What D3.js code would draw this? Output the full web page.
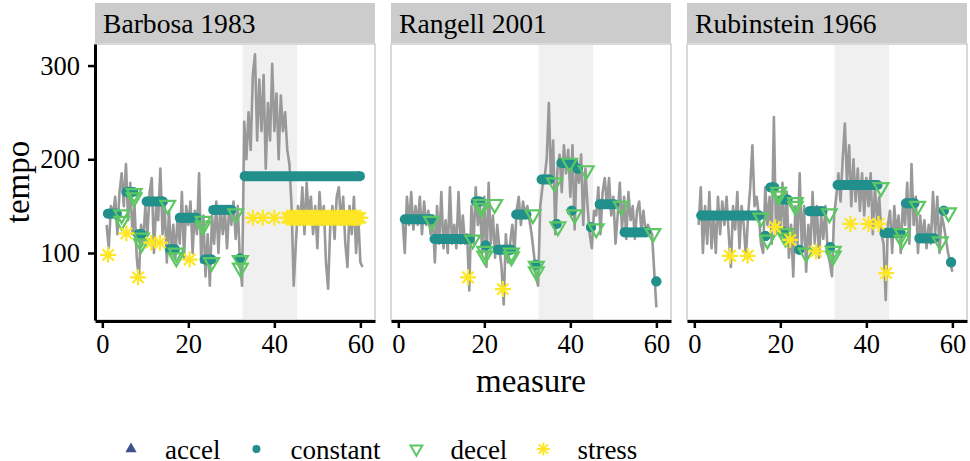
<!DOCTYPE html>
<html lang="en">
<head>
    <meta charset="UTF-8">
    <title>tempo</title>
    <script src="https://d3js.org/d3.v7.min.js"></script>
    <style>
        html, body {
            padding: 0;
            margin: 0;
            background: white;
        }
        svg text {
            font-family: "Liberation Serif", "Times New Roman", serif;
            fill: black;
        }
    </style>
</head>
<body>
<svg id="chart" width="970" height="461"></svg>
<script>
    // facets
    const performers = ["Barbosa 1983", "Rangell 2001", "Rubinstein 1966"];

    // gray tempo curve, one value every half measure from 1 to 60.5
    const sampleMeasures = d3.range(1, 61, 0.5);
    const tempoBarbosa = [
        130, 105, 150, 140, 160, 120, 165, 185, 150, 195,
        135, 175, 120, 150, 95, 72, 130, 110, 150, 120,
        165, 180, 100, 150, 135, 190, 120, 150, 90, 145,
        100, 130, 95, 140, 110, 165, 95, 150, 130, 155,
        100, 145, 120, 185, 90, 140, 75, 120, 65, 140,
        110, 155, 100, 150, 120, 145, 105, 150, 130, 155,
        115, 150, 90, 65, 240, 200, 250, 210, 290, 312,
        220, 285, 230, 290, 190, 260, 220, 302, 230, 270,
        200, 268, 230, 250, 210, 195, 150, 65, 110, 150,
        130, 170, 120, 175, 140, 160, 120, 150, 105, 165,
        130, 150, 90, 62, 130, 150, 115, 160, 170, 130,
        160, 110, 85, 150, 120, 160, 100, 140, 90, 85
    ];
    const tempoRangell = [
        135, 100, 160, 130, 165, 125, 150, 130, 160, 120,
        155, 130, 145, 120, 140, 90, 150, 110, 165, 105,
        135, 100, 170, 110, 130, 105, 165, 110, 140, 110,
        120, 60, 150, 110, 170, 130, 150, 100, 160, 85,
        175, 110, 140, 95, 130, 105, 85, 45, 120, 90,
        110, 130, 100, 145, 160, 130, 155, 140, 150, 135,
        120, 100, 75, 65, 150, 170, 180, 200, 260, 175,
        220, 120, 190, 205, 165, 215, 185, 210, 160, 215,
        125, 200, 175, 205, 130, 190, 150, 120, 105, 145,
        140, 170, 120, 165, 180, 150, 180, 140, 160, 110,
        140, 175, 125, 160, 115, 165, 135, 150, 115, 145,
        155, 125, 145, 120, 130, 125, 120, 80, 42, null
    ];
    const tempoRubinstein = [
        130, 170, 100, 150, 110, 165, 105, 140, 100, 160,
        120, 155, 130, 160, 120, 85, 150, 125, 165, 105,
        150, 130, 95, 140, 170, 215, 150, 160, 140, 110,
        100, 170, 130, 160, 110, 245, 120, 160, 125, 175,
        110, 165, 95, 130, 75, 150, 110, 185, 105, 150,
        80, 130, 105, 165, 110, 150, 95, 140, 115, 150,
        100, 90, 75, 140, 160, 185, 155, 200, 238, 175,
        215, 150, 200, 155, 190, 145, 185, 140, 180, 150,
        185, 120, 170, 135, 160, 120, 110, 50, 130, 145,
        100, 150, 120, 140, 100, 155, 130, 175, 110, 195,
        130, 160, 100, 140, 115, 135, 105, 130, 110, 165,
        120, 160, 100, 140, 130, 115, 100, 90, 80, null
    ];

    // constant-tempo runs: [first measure, last measure, tempo]
    const constantBarbosa = [
        [1.3, 3.4, 142], [5.6, 7.2, 165], [8.3, 9.2, 120], [10.3, 14.1, 155],
        [15.7, 16.9, 104], [18, 21.9, 137.5], [23.8, 25.4, 93], [25.8, 30, 146],
        [32, 32, 94], [33.1, 59.9, 182]
    ];
    const constantRangell = [
        [1.5, 7.7, 136], [8.4, 16.6, 115], [18, 19, 155], [20.3, 20.3, 108],
        [23.1, 26.3, 103.5], [27.4, 29.8, 141], [31.9, 31.9, 87.5], [33.3, 35.2, 178.5],
        [36.8, 36.8, 131], [37.9, 40.6, 196], [40.3, 40.3, 145], [41.7, 41.7, 190],
        [44.8, 44.8, 127.5], [46.8, 50.2, 152], [52.6, 57.6, 122], [60, 60, 69.6]
    ];
    const constantRubinstein = [
        [1.6, 15.1, 140], [16.5, 16.5, 118], [17.7, 18.6, 170], [20.5, 21.7, 157],
        [20.7, 20.7, 122], [24.4, 24.4, 103.5], [26.7, 29.8, 144.6], [31.6, 31.6, 106],
        [33.3, 42.6, 172.5], [44.2, 48, 121.4], [49.2, 51.2, 153], [52.3, 55.8, 115.6],
        [58, 58, 145], [59.7, 59.7, 90]
    ];

    // decel points: [measure, tempo]
    const decelBarbosa = [
        [4.5, 141], [4.5, 134], [7.4, 163.5], [7.4, 159], [9.1, 116], [9.1, 110],
        [15.2, 151], [17.2, 100], [17.2, 95], [23.4, 134], [23.4, 129], [25.4, 90],
        [31, 142], [32.1, 92], [32.1, 84]
    ];
    const decelRangell = [
        [7.7, 134], [17.3, 114], [19.3, 152], [19.3, 148], [22.4, 152], [20.1, 102],
        [20.1, 97], [26.3, 100], [26.3, 96], [31.3, 141], [32.1, 86], [32.1, 80],
        [36.3, 175], [37.1, 128], [39.8, 196], [41, 141], [43.7, 188], [46, 126],
        [51.8, 150], [59.2, 121]
    ];
    const decelRubinstein = [
        [15.5, 137.5], [17, 114], [19.6, 165], [19.6, 161], [23.5, 154], [23.5, 150],
        [21.2, 121], [21.2, 116], [26, 100], [31.4, 142], [32.3, 102], [32.3, 97],
        [43.4, 170], [48.3, 121], [48.3, 114], [51.9, 150], [57.2, 112], [59.1, 143]
    ];

    // stress points: [measure, tempo]
    const stressBarbosa = [
        [1.35, 98], [5.6, 121], [8.3, 74], [11.4, 111], [13.4, 111], [20.3, 93],
        [35, 137.5], [37.3, 137.5], [40, 137.5],
        [43, 137.5], [43.5, 137.5], [44, 137.5], [44.5, 137.5], [45, 137.5], [45.5, 137.5],
        [46, 137.5], [46.5, 137.5], [47, 137.5], [47.5, 137.5], [48, 137.5], [48.5, 137.5],
        [49, 137.5], [49.5, 137.5], [50, 137.5], [50.5, 137.5], [51, 137.5], [51.5, 137.5],
        [52, 137.5], [52.5, 137.5], [53, 137.5], [53.5, 137.5], [54, 137.5], [54.5, 137.5],
        [55, 137.5], [55.5, 137.5], [56, 137.5], [56.5, 137.5], [57, 137.5], [57.5, 137.5],
        [58, 137.5], [58.5, 137.5], [59, 137.5], [59.5, 137.5], [60, 137.5]
    ];
    const stressRangell = [[16.2, 74], [24.3, 61.5]];
    const stressRubinstein = [
        [8.3, 97], [12.4, 97], [18.8, 127.5], [22.3, 114], [28.3, 101.7],
        [36.3, 131], [40.5, 131], [42.8, 131], [44.6, 78.6]
    ];

    const highlightRange = [32.6, 45.3];
    const xTicks = [0, 20, 40, 60];
    const yTicks = [100, 200, 300];
    const legendLabels = ["accel", "constant", "decel", "stress"];
    const legendColors = ["#3B528B", "#21908C", "#5DC863", "#FDE725"];

    const panels = [
        {name: performers[0], tempo: tempoBarbosa, constant: constantBarbosa, decel: decelBarbosa, stress: stressBarbosa},
        {name: performers[1], tempo: tempoRangell, constant: constantRangell, decel: decelRangell, stress: stressRangell},
        {name: performers[2], tempo: tempoRubinstein, constant: constantRubinstein, decel: decelRubinstein, stress: stressRubinstein}
    ];

    // layout
    const panelLeft = [95, 391, 687];
    const panelW = 280;
    const stripTop = 3, panelTop = 44, panelBottom = 320;
    const fontTick = 26.5, fontTitle = 33;

    const svg = d3.select("#chart");

    const y = d3.scaleLinear().domain([28.5, 323]).range([panelBottom, panelTop]);

    // asterisk (ggplot shape 8)
    const star = r => {
        const d = r * Math.SQRT1_2;
        return `M${-r},0L${r},0M0,${-r}L0,${r}M${-d},${-d}L${d},${d}M${-d},${d}L${d},${-d}`;
    };
    const triangle = d3.symbol().type(d3.symbolTriangle);

    panels.forEach((p, i) => {
        const left = panelLeft[i];
        const x = d3.scaleLinear().domain([-1.7, 63.4]).range([left, left + panelW]);
        const g = svg.append("g");

        // strip
        g.append("rect")
            .attr("x", left).attr("y", stripTop)
            .attr("width", panelW).attr("height", panelTop - stripTop)
            .attr("fill", "#CCCCCC");
        g.append("text")
            .attr("x", left + 8).attr("y", 32.5)
            .style("font-size", "27.6px")
            .text(p.name);

        // panel background + highlighted section
        g.append("rect")
            .attr("x", left).attr("y", panelTop)
            .attr("width", panelW).attr("height", panelBottom - panelTop)
            .attr("fill", "white");
        g.append("rect")
            .attr("x", x(highlightRange[0])).attr("y", panelTop)
            .attr("width", x(highlightRange[1]) - x(highlightRange[0]))
            .attr("height", panelBottom - panelTop)
            .attr("fill", "#F0F0F0");

        // tempo curve
        const line = d3.line()
            .defined(d => d[1] != null)
            .x(d => x(d[0]))
            .y(d => y(d[1]));
        g.append("path")
            .datum(sampleMeasures.map((m, k) => [m, p.tempo[k]]))
            .attr("d", line)
            .attr("fill", "none")
            .attr("stroke", "#999999")
            .attr("stroke-width", 2.6)
            .attr("stroke-linejoin", "round");

        // constant runs
        const cg = g.append("g").attr("fill", legendColors[1]).attr("stroke", legendColors[1]);
        cg.selectAll("line")
            .data(p.constant)
            .join("line")
            .attr("x1", d => x(d[0])).attr("x2", d => x(d[1]))
            .attr("y1", d => y(d[2])).attr("y2", d => y(d[2]))
            .attr("stroke-width", 10);
        cg.selectAll("circle.a")
            .data(p.constant)
            .join("circle").attr("class", "a")
            .attr("cx", d => x(d[0])).attr("cy", d => y(d[2])).attr("r", 5)
            .attr("stroke", "none");
        cg.selectAll("circle.b")
            .data(p.constant)
            .join("circle").attr("class", "b")
            .attr("cx", d => x(d[1])).attr("cy", d => y(d[2])).attr("r", 5)
            .attr("stroke", "none");

        // decel
        g.append("g").selectAll("path")
            .data(p.decel)
            .join("path")
            .attr("d", triangle.size(95)())
            .attr("transform", d => `translate(${x(d[0])},${y(d[1])}) rotate(180)`)
            .attr("fill", "none")
            .attr("stroke", legendColors[2])
            .attr("stroke-width", 2.2);

        // stress
        g.append("g").selectAll("path")
            .data(p.stress)
            .join("path")
            .attr("d", star(8))
            .attr("transform", d => `translate(${x(d[0])},${y(d[1])})`)
            .attr("fill", "none")
            .attr("stroke", legendColors[3])
            .attr("stroke-width", 2.2);

        // panel border
        g.append("rect")
            .attr("x", left).attr("y", panelTop)
            .attr("width", panelW).attr("height", panelBottom - panelTop)
            .attr("fill", "none")
            .attr("stroke", "#D9D9D9")
            .attr("stroke-width", 2);

        // x axis
        const xa = g.append("g")
            .attr("transform", `translate(0,${panelBottom + 1})`)
            .call(d3.axisBottom(x).tickValues(xTicks).tickSize(7).tickSizeOuter(0).tickPadding(6));
        xa.select(".domain").attr("stroke", "black").attr("stroke-width", 3);
        xa.selectAll(".tick line").attr("stroke", "black").attr("stroke-width", 2.5);
        xa.selectAll(".tick text")
            .attr("fill", "black")
            .style("font-size", fontTick + "px")
            .style("font-family", '"Liberation Serif", "Times New Roman", serif');

        // y axis only on the first facet
        if (i === 0) {
            const ya = g.append("g")
                .attr("transform", `translate(${left},0)`)
                .call(d3.axisLeft(y).tickValues(yTicks).tickSize(7).tickSizeOuter(0).tickPadding(8));
            ya.select(".domain").attr("stroke", "black").attr("stroke-width", 3);
            ya.selectAll(".tick line").attr("stroke", "black").attr("stroke-width", 2.5);
            ya.selectAll(".tick text")
                .attr("fill", "black")
                .style("font-size", fontTick + "px")
                .style("font-family", '"Liberation Serif", "Times New Roman", serif');
        }
    });

    // axis titles
    svg.append("text")
        .attr("text-anchor", "middle")
        .attr("transform", `translate(28.5,${(panelTop + panelBottom) / 2}) rotate(-90)`)
        .style("font-size", fontTitle + "px")
        .text("tempo");
    svg.append("text")
        .attr("text-anchor", "middle")
        .attr("x", (panelLeft[0] + panelLeft[2] + panelW) / 2)
        .attr("y", 392)
        .style("font-size", fontTitle + "px")
        .text("measure");

    // legend
    const legendY = 449;
    let lx = 131;
    legendLabels.forEach((lab, k) => {
        const lg = svg.append("g");
        if (k === 0) {
            lg.append("path").attr("d", triangle.size(55)())
                .attr("transform", `translate(${lx},${legendY})`)
                .attr("fill", legendColors[0]);
        } else if (k === 1) {
            lg.append("circle").attr("cx", lx).attr("cy", legendY).attr("r", 4)
                .attr("fill", legendColors[1]);
        } else if (k === 2) {
            lg.append("path").attr("d", triangle.size(60)())
                .attr("transform", `translate(${lx},${legendY}) rotate(180)`)
                .attr("fill", "none").attr("stroke", legendColors[2]).attr("stroke-width", 2);
        } else {
            lg.append("path").attr("d", star(6.5))
                .attr("transform", `translate(${lx},${legendY})`)
                .attr("fill", "none").attr("stroke", legendColors[3]).attr("stroke-width", 2);
        }
        const t = lg.append("text")
            .attr("x", lx + 34).attr("y", 459)
            .style("font-size", "27px")
            .text(lab);
        lx = lx + 34 + t.node().getComputedTextLength() + 36;
    });
</script>
</body>
</html>
